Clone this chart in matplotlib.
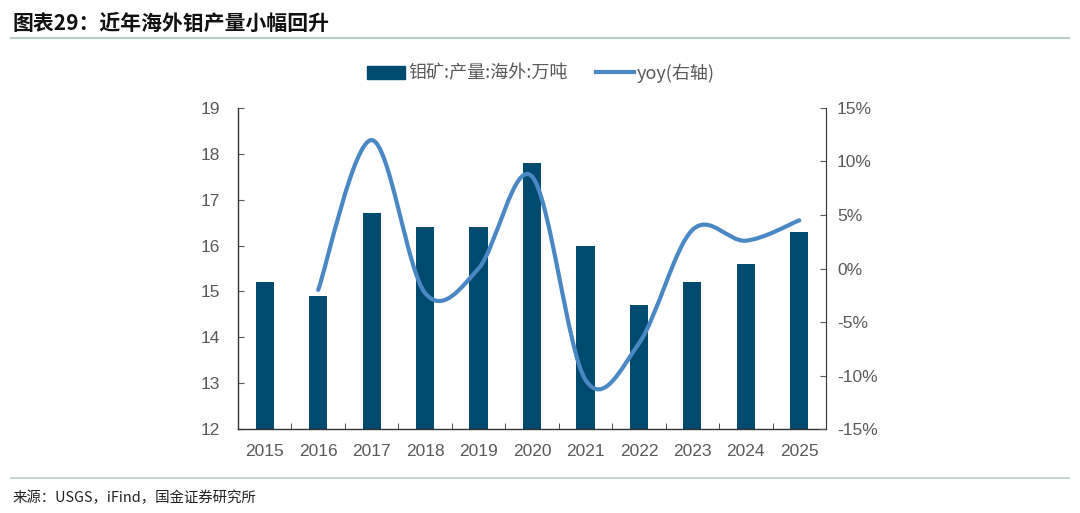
"""
海外钼产量柱状图 + yoy 平滑曲线
"""
import numpy as np
import matplotlib
matplotlib.use("Agg")
import matplotlib.pyplot as plt
from matplotlib.path import Path
from matplotlib.patches import PathPatch
from matplotlib.lines import Line2D
from matplotlib.patches import Patch

plt.rcParams['font.family'] = ['Noto Sans CJK SC', 'DejaVu Sans']

years = ["2015", "2016", "2017", "2018", "2019", "2020", "2021", "2022", "2023", "2024", "2025"]
output = [15.2, 14.9, 16.7, 16.4, 16.4, 17.8, 16.0, 14.7, 15.2, 15.6, 16.3]
yoy_years = ["2016", "2017", "2018", "2019", "2020", "2021", "2022", "2023", "2024", "2025"]
yoy = [-2.0, 12.0, -2.3, 0.0, 8.6, -10.4, -7.0, 3.6, 2.6, 4.5]

BAR_C = "#004a6f"
LINE_C = "#4a88c4"
TXT_C = "#595959"
TICK_FONT = ['Liberation Sans', 'DejaVu Sans']


def smooth_path(xs, ys, t=1/6):
    """
    bezier path like excel smoothed line
    """
    pts = np.column_stack([xs, ys]).astype(float)
    verts = [pts[0]]
    codes = [Path.MOVETO]
    n = len(pts)
    for i in range(n - 1):
        p0 = pts[i - 1] if i > 0 else pts[i]
        p1 = pts[i]
        p2 = pts[i + 1]
        p3 = pts[i + 2] if i + 2 < n else pts[i + 1]
        c1 = p1 + (p2 - p0) * t
        c2 = p2 - (p3 - p1) * t
        verts += [c1, c2, p2]
        codes += [Path.CURVE4] * 3
    return Path(verts, codes)


fig = plt.figure(figsize=(10.8, 5.13), dpi=100)
ax = fig.add_axes([0.2204, 0.1637, 0.5444, 0.6258])
x = np.arange(len(years))
ax.bar(x, output, width=0.34, color=BAR_C, zorder=2)
ax.set_ylim(12, 19)
ax.set_xlim(-0.5, len(years) - 0.5)
ax.set_yticks(range(12, 20))
ax.set_xticks(x)
ax.set_xticklabels(years)
ax.set_xticks(np.arange(-0.5, len(years), 1), minor=True)
ax.tick_params(axis='x', which='major', length=0, pad=11, labelsize=12.5, colors=TXT_C)
ax.tick_params(axis='x', which='minor', direction='in', length=4, color='#333333')
ax.tick_params(axis='y', direction='in', length=4, labelsize=12.5, colors=TXT_C, pad=13)
ax.spines['top'].set_visible(False)
ax.spines['right'].set_visible(False)
for s in ['left', 'bottom']:
    ax.spines[s].set_color('#333333')
    ax.spines[s].set_linewidth(1.0)
for lab in ax.get_xticklabels() + ax.get_yticklabels():
    lab.set_family(TICK_FONT)

ax2 = ax.twinx()
ax2.set_ylim(-15, 15)
ax2.set_yticks(range(-15, 16, 5))
ax2.set_yticklabels([f"{v}%" for v in range(-15, 16, 5)])
ax2.tick_params(axis='y', direction='in', length=4, labelsize=12.5, colors=TXT_C, pad=8)
ax2.spines['top'].set_visible(False)
ax2.spines['left'].set_visible(False)
ax2.spines['bottom'].set_visible(False)
ax2.spines['right'].set_color('#333333')
for lab in ax2.get_yticklabels():
    lab.set_family(TICK_FONT)
yx = [years.index(y) for y in yoy_years]
ax2.add_patch(PathPatch(smooth_path(yx, yoy), facecolor='none', edgecolor=LINE_C,
                        lw=3, capstyle='round', zorder=3))

handles = [Patch(color=BAR_C), Line2D([], [], color=LINE_C, lw=3)]
fig.legend(handles, ["钼矿:产量:海外:万吨", "yoy(右轴)"], loc='center',
           bbox_to_anchor=(0.501, 0.858), ncol=2, frameon=False, fontsize=13,
           handlelength=2.1, handleheight=0.7, columnspacing=1.6, handletextpad=0.15,
           labelcolor=TXT_C)

fig.text(0.012, 0.955, "图表29：近年海外钼产量小幅回升", fontsize=15, fontweight='bold',
         style='italic', color='#111111', va='center')
fig.add_artist(Line2D([0.01, 0.99], [0.925, 0.925], color='#b9cccc', lw=1.5))
fig.add_artist(Line2D([0.01, 0.99], [0.068, 0.068], color='#b9cccc', lw=1.2))
fig.text(0.012, 0.03, "来源：USGS，iFind，国金证券研究所", fontsize=10.4, color='#222222', va='center')

fig.savefig("out.png", dpi=100)
